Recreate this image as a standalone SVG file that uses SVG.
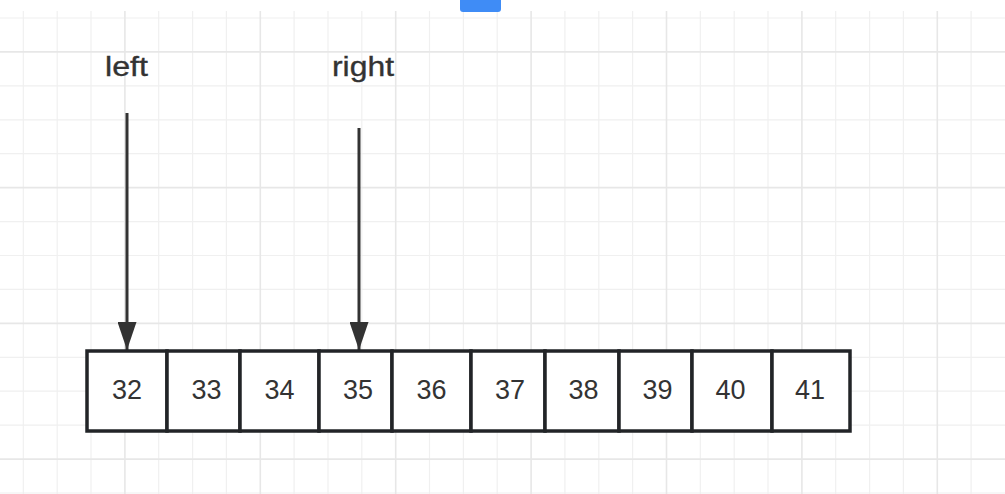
<svg xmlns="http://www.w3.org/2000/svg" width="1005" height="494" viewBox="0 0 1005 494">
  <defs>
    <style>
      .minor { stroke: #f0f0f0; stroke-width: 1.2; fill: none; }
      .major { stroke: #e7e7e7; stroke-width: 1.6; fill: none; }
      .cell { fill: #ffffff; stroke: #222427; stroke-width: 3.5; }
      .num { font-family: "Liberation Sans", Arial, sans-serif; font-size: 27px; fill: #333333; text-anchor: middle; }
      .lbl { font-family: "Liberation Sans", Arial, sans-serif; font-size: 27px; fill: #333333; stroke: #333333; stroke-width: 0.35; text-anchor: middle; }
      .arrow { stroke: #333333; stroke-width: 3; fill: none; }
    </style>
    <marker id="ah2" markerUnits="userSpaceOnUse" markerWidth="28" markerHeight="19" refX="28" refY="9.5" orient="auto" viewBox="0 0 28 19">
      <path d="M0,0 L28,9.5 L0,19 Z" fill="#333333"/>
    </marker>
  </defs>

  <rect x="0" y="0" width="1005" height="494" fill="#ffffff"/>

  <g id="grid">
    <path class="minor" d="M23.3,11V494 M57.2,11V494 M91,11V494 M158.7,11V494 M192.6,11V494 M226.4,11V494 M294.1,11V494 M328,11V494 M361.8,11V494 M429.5,11V494 M463.4,11V494 M497.2,11V494 M564.9,11V494 M598.8,11V494 M632.6,11V494 M700.3,11V494 M734.2,11V494 M768,11V494 M835.7,11V494 M869.6,11V494 M903.4,11V494 M971.1,11V494"/>
    <path class="minor" d="M0,18H1005 M0,85.8H1005 M0,119.8H1005 M0,153.7H1005 M0,221.6H1005 M0,255.5H1005 M0,289.4H1005 M0,357.3H1005 M0,391.2H1005 M0,425.1H1005 M0,493H1005"/>
    <path class="major" d="M124.9,11V494 M260.3,11V494 M395.7,11V494 M531.1,11V494 M666.5,11V494 M801.9,11V494 M937.3,11V494"/>
    <path class="major" d="M0,51.9H1005 M0,187.6H1005 M0,323.4H1005 M0,459.1H1005"/>
  </g>

  <rect x="460" y="-6" width="41" height="18" rx="3" fill="#3f8cf6"/>

  <g id="connectors">
    <line class="arrow" x1="127" y1="113" x2="127" y2="350" marker-end="url(#ah2)"/>
    <line class="arrow" x1="359" y1="128" x2="359" y2="350" marker-end="url(#ah2)"/>
  </g>

  <g id="label-left"><text class="lbl" x="126.5" y="76" textLength="43" lengthAdjust="spacingAndGlyphs">left</text></g>
  <g id="label-right"><text class="lbl" x="363" y="76" textLength="62" lengthAdjust="spacingAndGlyphs">right</text></g>

  <g id="cell-32"><rect class="cell" x="87" y="351" width="80" height="80"/><text class="num" x="127" y="399">32</text></g>
  <g id="cell-33"><rect class="cell" x="167" y="351" width="73" height="80"/><text class="num" x="206.5" y="399">33</text></g>
  <g id="cell-34"><rect class="cell" x="240" y="351" width="79" height="80"/><text class="num" x="279.5" y="399">34</text></g>
  <g id="cell-35"><rect class="cell" x="319" y="351" width="73" height="80"/><text class="num" x="358" y="399">35</text></g>
  <g id="cell-36"><rect class="cell" x="392" y="351" width="79" height="80"/><text class="num" x="431.5" y="399">36</text></g>
  <g id="cell-37"><rect class="cell" x="471" y="351" width="74" height="80"/><text class="num" x="510" y="399">37</text></g>
  <g id="cell-38"><rect class="cell" x="545" y="351" width="74" height="80"/><text class="num" x="583.5" y="399">38</text></g>
  <g id="cell-39"><rect class="cell" x="619" y="351" width="73" height="80"/><text class="num" x="657.5" y="399">39</text></g>
  <g id="cell-40"><rect class="cell" x="692" y="351" width="80" height="80"/><text class="num" x="730.5" y="399">40</text></g>
  <g id="cell-41"><rect class="cell" x="772" y="351" width="78" height="80"/><text class="num" x="810" y="399">41</text></g>
</svg>
